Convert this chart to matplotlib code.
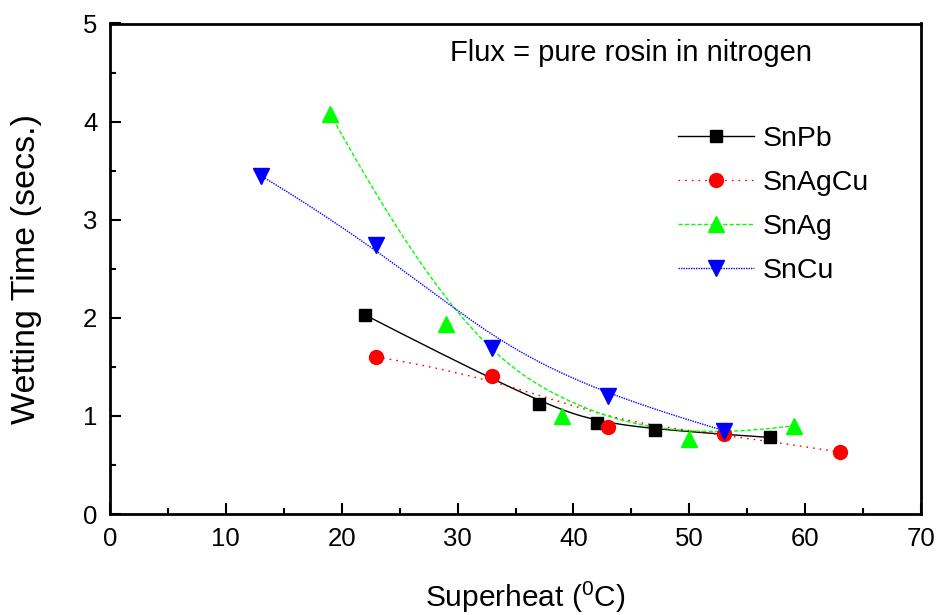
import numpy as np
import matplotlib
matplotlib.use("Agg")
import matplotlib.pyplot as plt
from matplotlib.lines import Line2D
from matplotlib.ticker import MultipleLocator

plt.rcParams['font.family'] = ['Liberation Sans', 'DejaVu Sans']
plt.rcParams['mathtext.fontset'] = 'custom'
plt.rcParams['mathtext.rm'] = 'Liberation Sans'
plt.rcParams['mathtext.it'] = 'Liberation Sans:italic'

# Data
snpb_x = [22, 37, 42, 47, 57]
snpb_y = [2.03, 1.12, 0.93, 0.86, 0.78]
snagcu_x = [23, 33, 43, 53, 63]
snagcu_y = [1.60, 1.41, 0.89, 0.82, 0.63]
snag_x = [19, 29, 39, 50, 59]
snag_y = [4.08, 1.94, 1.00, 0.76, 0.90]
sncu_x = [13, 23, 33, 43, 53]
sncu_y = [3.45, 2.74, 1.69, 1.20, 0.85]

series_names = ["SnPb", "SnAgCu", "SnAg", "SnCu"]
x_ticks = [0, 10, 20, 30, 40, 50, 60, 70]
y_ticks = [0, 1, 2, 3, 4, 5]


def bspline(xs, ys, n=300, k=3):
    P = np.column_stack([xs, ys]).astype(float)
    m = len(P)
    k = min(k, m - 1)
    knots = np.concatenate([np.zeros(k), np.linspace(0, 1, m - k + 1), np.ones(k)])
    t = np.linspace(0, 1, n)
    t[-1] -= 1e-9
    N = np.zeros((n, len(knots) - 1))
    for i in range(len(knots) - 1):
        N[:, i] = ((knots[i] <= t) & (t < knots[i + 1])).astype(float)
    for d in range(1, k + 1):
        Nn = np.zeros((n, len(knots) - 1 - d))
        for i in range(len(knots) - 1 - d):
            a = 0.0
            den = knots[i + d] - knots[i]
            if den > 0:
                a = (t - knots[i]) / den * N[:, i]
            b = 0.0
            den2 = knots[i + d + 1] - knots[i + 1]
            if den2 > 0:
                b = (knots[i + d + 1] - t) / den2 * N[:, i + 1]
            Nn[:, i] = a + b
        N = Nn
    C = N @ P
    return C[:, 0], C[:, 1]


fig = plt.figure(figsize=(9.42, 6.15), dpi=100)
ax = fig.add_axes([110 / 942, 1 - 514 / 615, (921 - 110) / 942, (514 - 23.5) / 615])

styles = [
    dict(color='black', marker='s', ms=8.3, dashes=None, lw=1.0),
    dict(color='#ff0000', marker='o', ms=10, dashes=(1.2, 3.6), lw=1.0),
    dict(color='#00ff00', marker='^', ms=11, dashes=(3.0, 1.6), lw=1.0),
    dict(color='#0000ff', marker='v', ms=11, dashes=(1.0, 0.8), lw=1.0),
]
data = [(snpb_x, snpb_y), (snagcu_x, snagcu_y), (snag_x, snag_y), (sncu_x, sncu_y)]

handles = []
for (xs, ys), st, name in zip(data, styles, series_names):
    cx, cy = bspline(xs, ys)
    line, = ax.plot(cx, cy, color=st['color'], lw=st['lw'], zorder=2)
    if st['dashes'] is not None:
        line.set_dashes(st['dashes'])
    ax.plot(xs, ys, linestyle='none', marker=st['marker'], ms=st['ms'],
            color=st['color'], markeredgecolor=st['color'], zorder=3)
    h = Line2D([], [], color=st['color'], lw=st['lw'], marker=st['marker'],
               ms=st['ms'], markeredgecolor=st['color'])
    if st['dashes'] is not None:
        h.set_dashes(st['dashes'])
    handles.append(h)

ax.set_xlim(0, 70)
ax.set_ylim(0, 5)
ax.set_xticks(x_ticks)
ax.set_yticks(y_ticks)
ax.xaxis.set_minor_locator(MultipleLocator(5))
ax.yaxis.set_minor_locator(MultipleLocator(0.5))
ax.tick_params(which='major', direction='in', length=8, width=1.5, labelsize=18.5, pad=9)
ax.tick_params(which='minor', direction='in', length=4, width=1.5)
ax.tick_params(axis='x', which='both', top=False)
ax.tick_params(axis='y', which='both', right=False)
for sp in ax.spines.values():
    sp.set_linewidth(2)

ax.set_xlabel('Superheat ($\\mathregular{^0}$C)', fontsize=21.5)
ax.xaxis.set_label_coords((525 - 110) / 811, (514 - 580) / 490.5)
ax.set_ylabel('Wetting Time (secs.)', fontsize=24.5)
ax.yaxis.set_label_coords((42 - 110) / 811, 0.5)

ax.text((450 - 110) / 811, (514 - 53) / 490.5, 'Flux = pure rosin in nitrogen',
        fontsize=21, transform=ax.transAxes, va='center', ha='left')

leg = ax.legend(handles, series_names, loc='upper left',
                bbox_to_anchor=((672 - 110) / 811, (514 - 120) / 490.5),
                frameon=False, fontsize=20.5, handlelength=2.67, handletextpad=0.32,
                labelspacing=0.64, borderpad=0.2, borderaxespad=0)

fig.savefig('out.png', dpi=100)
